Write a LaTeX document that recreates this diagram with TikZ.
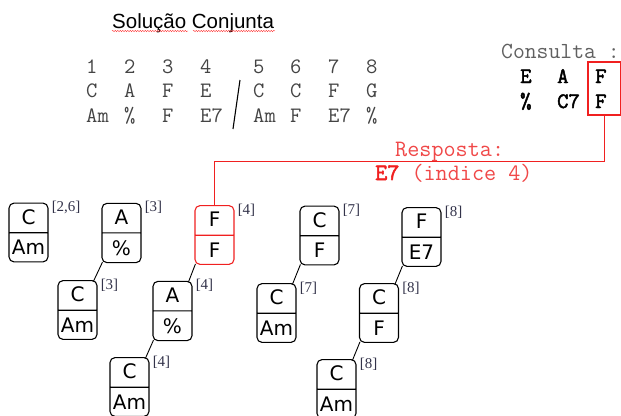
\documentclass[tikz,border=0pt]{standalone}
\usepackage{fontspec}
\setmainfont{Liberation Serif}
\setsansfont{Liberation Sans}
\newfontfamily\chordfam{DejaVu Sans}
\newfontfamily\heavytt{Latin Modern Mono}[FakeBold=2.2]
\usepackage{xcolor}
\definecolor{ink}{HTML}{444444}
\definecolor{tagc}{HTML}{33334A}
\definecolor{hit}{HTML}{F02020}
\definecolor{resp}{HTML}{F04848}
\usetikzlibrary{shapes.multipart,decorations.pathmorphing}
\tikzset{
  chord/.style={rectangle split,rectangle split parts=2,draw,rounded corners=5pt,line width=1.1pt,
    minimum width=39pt,inner xsep=2pt,inner ysep=6.75pt,text height=14pt,text depth=1pt,
    font=\chordfam\fontsize{20pt}{21pt}\selectfont},
  hitchord/.style={chord,draw=hit},
  tag/.style={font=\fontsize{15pt}{16pt}\selectfont,text=tagc,inner sep=0pt,anchor=west},
  cell/.style={font=\ttfamily\fontsize{22pt}{24pt}\selectfont,text=ink,inner sep=0pt,anchor=base west},
  qcell/.style={cell,font=\heavytt\fontsize{22pt}{24pt}\selectfont,text=black},
  rcell/.style={cell,font=\ttfamily\fontsize{23.5pt}{25pt}\selectfont,text=resp},
  link/.style={line width=0.9pt},
  wire/.style={draw=hit,line width=1.1pt},
  squiggle/.style={draw=red!80,line width=0.4pt,decorate,decoration={snake,amplitude=0.7pt,segment length=2.5pt}},
}

\begin{document}
\begin{tikzpicture}[x=1pt,y=-1pt]
\useasboundingbox (0,0) rectangle (621,415);

% title
\node[font=\sffamily\fontsize{20.5pt}{22pt}\selectfont,anchor=base west,inner sep=0pt] (title) at (112,28) {Solução Conjunta};
\draw[squiggle] (112,31) -- (188,31);
\draw[squiggle] (193,31) -- (275,31);

% the sequence, split in two halves
\foreach \i/\x/\p/\q in {1/86/C/Am,2/124/A/\%,3/162/F/F,4/200/E/E7,5/253/C/Am,6/290/C/F,7/328/F/E7,8/366/G/\%}{
  \node[cell] (num\i) at (\x,73) {\i};
  \node[cell] (up\i) at (\x,97) {\p};
  \node[cell] (lo\i) at (\x,122) {\q};
}
\draw[line width=1.1pt] (240,80) -- (233,129);

% query
\node[cell,text=ink!85,font=\ttfamily\fontsize{23pt}{24pt}\selectfont] (qhead) at (501,58) {Consulta :};
\foreach \n/\x/\p/\q in {1/520/E/\%,2/557/A/C7,3/595/F/F}{
  \node[qcell] (qup\n) at (\x,83) {\p};
  \node[qcell] (qlo\n) at (\x,108) {\q};
}
\node[draw=hit,line width=1.1pt,minimum width=33pt,minimum height=53pt,inner sep=0pt] (qbox) at (604.5,88.5) {};

\node[rcell] (resp) at (395,156) {Resposta:};
\node[rcell] (ans) at (375,180) {{\heavytt\color{hit}E7} (indice 4)};

% chord trees
\node[chord] (c1) at (28.5,232.5) {C\nodepart{two}Am};
\node[chord] (a1) at (121.5,233) {A\nodepart{two}\%};
\node[chord] (c2) at (77.5,310) {C\nodepart{two}Am};
\node[hitchord] (ff) at (214.5,235) {F\nodepart{two}F};
\node[chord] (a2) at (172.5,311) {A\nodepart{two}\%};
\node[chord] (c3) at (129.5,387) {C\nodepart{two}Am};
\node[chord] (cf1) at (319.5,235.5) {C\nodepart{two}F};
\node[chord] (c4) at (276.5,313) {C\nodepart{two}Am};
\node[chord] (fe) at (421.5,237) {F\nodepart{two}E7};
\node[chord] (cf2) at (379,313) {C\nodepart{two}F};
\node[chord] (c5) at (336.5,389) {C\nodepart{two}Am};

\foreach \n/\t in {c1/{[2,6]},a1/{[3]},c2/{[3]},ff/{[4]},a2/{[4]},c3/{[4]},cf1/{[7]},c4/{[7]},fe/{[8]},cf2/{[8]},c5/{[8]}}
  \node[tag] (tag-\n) at ([shift={(3,5)}]\n.north east) {\t};

\foreach \u/\v in {a1/c2,ff/a2,a2/c3,cf1/c4,fe/cf2,cf2/c5}
  \draw[link] ([shift={(1,-1)}]\u.south west) -- ([shift={(-4,1)}]\v.north east);

\draw[wire] (qbox.south) -- ++(0,46) -| (ff.north);
\end{tikzpicture}
\end{document}
